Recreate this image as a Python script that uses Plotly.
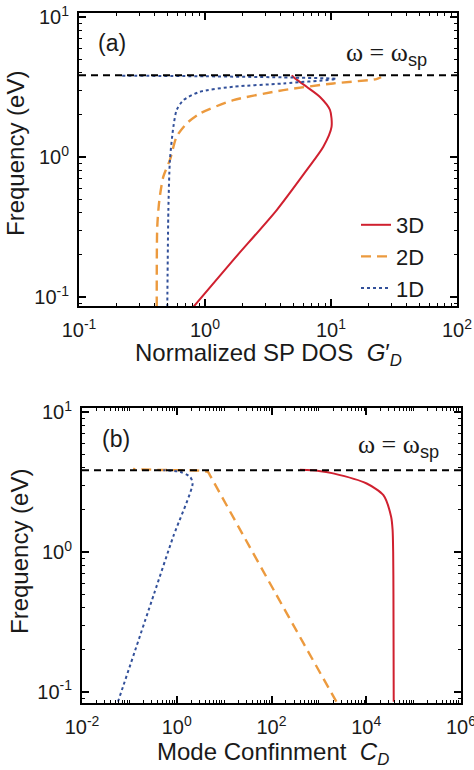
import plotly.graph_objects as go

# ---------------- data ----------------
OMEGA_SP = 3.85  # eV, surface plasmon frequency (dashed line)

# Panel (a): normalized SP DOS G'_D vs frequency
freq_3d_a = [0.085, 0.184, 0.418, 0.807, 1.186, 1.644, 2.17, 2.69, 3.18, 3.75, 3.85]
dos_3d_a = [0.81, 1.68, 3.71, 6.41, 8.69, 10.1, 9.82, 8.18, 6.41, 5.0, 4.9]

freq_2d_a = [0.085, 0.318, 0.49, 0.724, 0.955, 1.40, 1.74, 2.05, 2.55, 3.01, 3.36, 3.61, 3.72]
dos_2d_a = [0.414, 0.418, 0.434, 0.467, 0.527, 0.596, 0.716, 0.912, 1.68, 4.19, 10.4, 22.9, 25.0]

freq_1d_a = [0.085, 0.418, 0.955, 1.644, 2.17, 2.55, 2.93, 3.18, 3.36, 3.62, 3.70, 3.78, 3.82]
dos_1d_a = [0.502, 0.512, 0.527, 0.561, 0.596, 0.673, 0.912, 1.68, 4.19, 11.0, 5.0, 1.0, 0.22]

# Panel (b): mode confinement C_D vs frequency
freq_3d_b = [0.085, 0.5, 1.0, 1.44, 1.79, 2.55, 3.09, 3.65, 3.80, 3.87]
conf_3d_b = [38000, 37500, 37000, 36000, 33500, 23000, 10200, 2000, 1000, 400]

freq_2d_b = [0.085, 0.223, 0.507, 1.52, 3.55, 3.72, 3.82, 3.86, 3.92]
conf_2d_b = [2340, 472, 121.6, 20.0, 5.0, 4.6, 3.0, 0.5, 0.12]

freq_1d_b = [0.085, 0.507, 1.29, 3.09, 3.45, 3.75, 3.85]
conf_1d_b = [0.0575, 0.335, 0.843, 2.16, 1.91, 1.17, 0.52]

series_names = ["3D", "2D", "1D"]

x_ticks_a = [0.1, 1, 10, 100]
x_text_a = ["10<sup>-1</sup>", "10<sup>0</sup>", "10<sup>1</sup>", "10<sup>2</sup>"]
x_ticks_b = [1e-2, 1, 1e2, 1e4, 1e6]
x_text_b = ["10<sup>-2</sup>", "10<sup>0</sup>", "10<sup>2</sup>", "10<sup>4</sup>", "10<sup>6</sup>"]
y_ticks = [0.1, 1, 10]
y_text = ["10<sup>-1</sup>", "10<sup>0</sup>", "10<sup>1</sup>"]

x_span_a = [0.1, 100]
x_span_b = [1e-2, 1e6]

# ---------------- style ----------------
RED = "#d0202f"
ORANGE = "#ec9a3e"
BLUE = "#32509a"
FONT = "Arial, 'Liberation Sans', sans-serif"
TXT = "#1a1a1a"


def minors(lo, hi, majors):
    vals = []
    for k in range(lo, hi + 1):
        for m in range(1, 10):
            v = m * 10.0 ** k
            if all(abs(v - M) / M > 1e-9 for M in majors):
                vals.append(v)
    return vals


fig = go.Figure()

styles = [
    dict(color=RED, width=2, dash="solid"),
    dict(color=ORANGE, width=2.4, dash="10px,6px"),
    dict(color=BLUE, width=2, dash="dot"),
]

data_a = [(dos_3d_a, freq_3d_a), (dos_2d_a, freq_2d_a), (dos_1d_a, freq_1d_a)]
data_b = [(conf_3d_b, freq_3d_b), (conf_2d_b, freq_2d_b), (conf_1d_b, freq_1d_b)]

for name, st, (xv, yv) in zip(series_names, styles, data_a):
    fig.add_trace(go.Scatter(x=xv, y=yv, mode="lines", name=name,
                             line=dict(shape="spline", smoothing=0.7, **st),
                             xaxis="x", yaxis="y"))
for name, st, (xv, yv) in zip(series_names, styles, data_b):
    fig.add_trace(go.Scatter(x=xv, y=yv, mode="lines", name=name, showlegend=False,
                             line=dict(shape="spline", smoothing=0.7, **st),
                             xaxis="x2", yaxis="y2"))

# omega = omega_sp dashed lines
fig.add_trace(go.Scatter(x=x_span_a, y=[OMEGA_SP, OMEGA_SP], mode="lines", showlegend=False,
                         line=dict(color="black", width=2, dash="7px,5px"), xaxis="x", yaxis="y"))
fig.add_trace(go.Scatter(x=x_span_b, y=[OMEGA_SP, OMEGA_SP], mode="lines", showlegend=False,
                         line=dict(color="black", width=2, dash="7px,5px"), xaxis="x2", yaxis="y2"))

W, H = 474, 770


def ax_common():
    return dict(type="log", showline=True, linecolor="black", linewidth=2, mirror="allticks",
                ticks="inside", ticklen=7, tickwidth=1.5, tickcolor="black",
                showgrid=False, zeroline=False, tickmode="array", automargin=False,
                ticklabeloverflow="allow",
                tickfont=dict(family=FONT, size=20, color=TXT))


xa = ax_common()
xa.update(domain=[79 / W, 457 / W], range=[-1, 2], tickvals=x_ticks_a, ticktext=x_text_a,
          anchor="y", ticklabelstandoff=5,
          minor=dict(tickvals=minors(-1, 1, x_ticks_a), ticks="inside", ticklen=3,
                     tickwidth=1.2, tickcolor="black"))
ya = ax_common()
ya.update(domain=[1 - 306 / H, 1 - 13 / H], range=[-1.065, 1.03], tickvals=y_ticks, ticktext=y_text,
          anchor="x", ticklabelstandoff=4,
          minor=dict(tickvals=minors(-2, 1, y_ticks), ticks="inside", ticklen=3,
                     tickwidth=1.2, tickcolor="black"))
xb = ax_common()
xb.update(domain=[82 / W, 461 / W], range=[-2, 6], tickvals=x_ticks_b, ticktext=x_text_b,
          anchor="y2", ticklabelstandoff=5,
          minor=dict(tickvals=minors(-2, 5, x_ticks_b), ticks="inside", ticklen=3,
                     tickwidth=1.2, tickcolor="black"))
yb = ax_common()
yb.update(domain=[1 - 703 / H, 1 - 408 / H], range=[-1.08, 1.03], tickvals=y_ticks, ticktext=y_text,
          anchor="x2", ticklabelstandoff=4,
          minor=dict(tickvals=minors(-2, 1, y_ticks), ticks="inside", ticklen=3,
                     tickwidth=1.2, tickcolor="black"))

omega_label = ("<span style=\"font-family:'Liberation Serif', serif\">\u03c9 = \u03c9</span>"
               "<sub>sp</sub>")


def ann(text, x, y, size, angle=0):
    return dict(text=text, x=x / W, y=1 - y / H, xref="paper", yref="paper",
                xanchor="center", yanchor="middle", textangle=angle,
                showarrow=False, font=dict(family=FONT, size=size, color=TXT))


annotations = [
    ann("(a)", 112, 43, 23),
    ann("(b)", 116, 439, 23),
    ann(omega_label, 386, 54, 26),
    ann(omega_label, 398, 446, 26),
    ann("Frequency (eV)", 16, 154, 24, -90),
    ann("Frequency (eV)", 19, 552, 24, -90),
    ann("Normalized SP DOS  <i>G</i>\u2032<sub><i>D</i></sub>", 268, 354, 24),
    ann("Mode Confinment  <i>C</i><sub><i>D</i></sub>", 273, 753, 24),
]

fig.update_layout(
    width=W, height=H, margin=dict(l=0, r=0, t=0, b=0, autoexpand=False),
    paper_bgcolor="white", plot_bgcolor="white",
    xaxis=xa, yaxis=ya, xaxis2=xb, yaxis2=yb,
    annotations=annotations,
    showlegend=True,
    legend=dict(x=356 / W, y=1 - 204 / H, xanchor="left", yanchor="top",
                bgcolor="rgba(0,0,0,0)", borderwidth=0, itemwidth=30,
                font=dict(family=FONT, size=22, color=TXT), tracegroupgap=0),
)

fig.write_html("out.html", post_script="document.body.style.margin='0';",
               config={"displayModeBar": False})
